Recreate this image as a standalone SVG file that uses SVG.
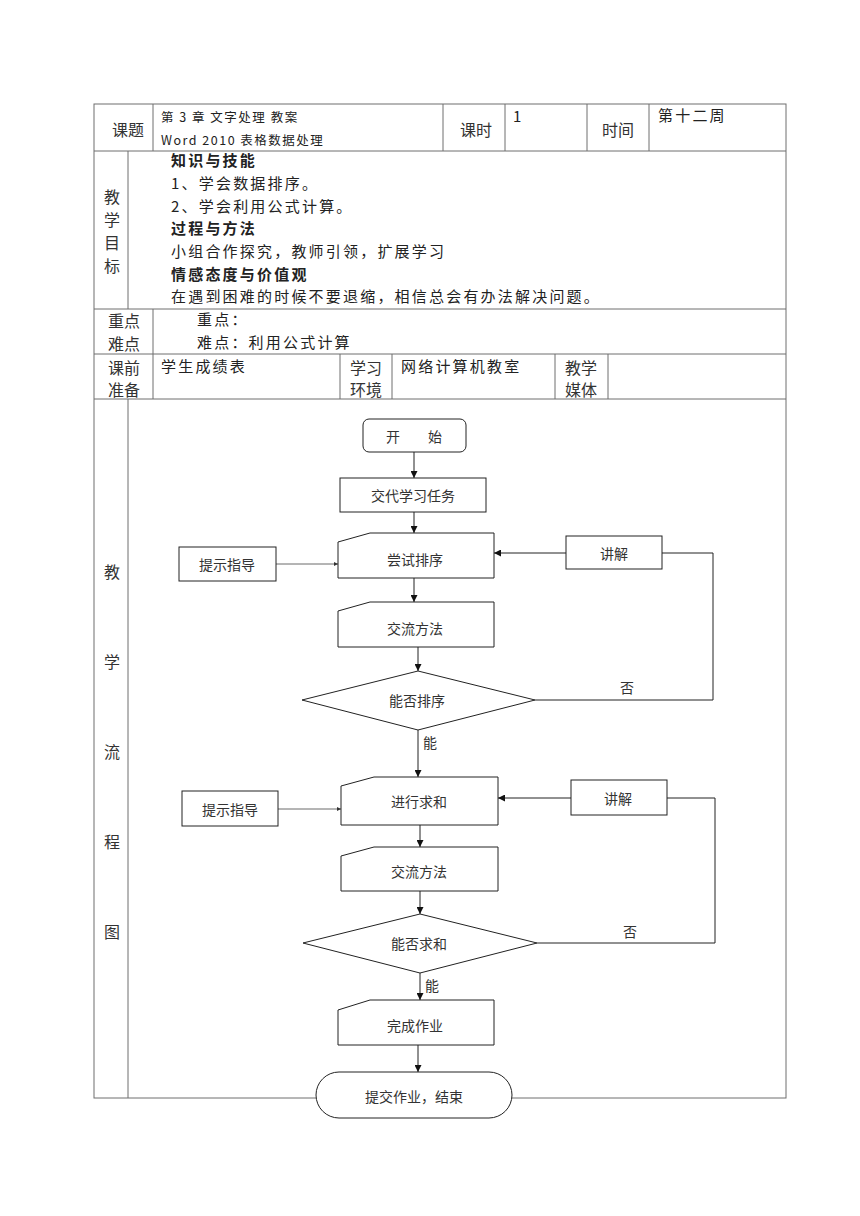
<svg xmlns="http://www.w3.org/2000/svg" width="860" height="1216" viewBox="0 0 860 1216">
<defs>
<marker id="ah" viewBox="0 0 10 10" refX="10" refY="5" markerWidth="7" markerHeight="7" markerUnits="userSpaceOnUse" orient="auto">
<path d="M0,0 L10,5 L0,10 Z" fill="#111"/>
</marker>
<marker id="ahs" viewBox="0 0 10 10" refX="10" refY="5" markerWidth="4" markerHeight="4" markerUnits="userSpaceOnUse" orient="auto">
<path d="M0,0 L10,5 L0,10 Z" fill="#333"/>
</marker>
</defs>
<style>
.tl{stroke:#6e6e6e;stroke-width:1;fill:none}
.t{font-family:"Noto Sans CJK SC","Noto Sans",sans-serif;font-size:15px;fill:#222;letter-spacing:2.2px}
.tb{font-weight:bold}
.lab{font-family:"Noto Sans CJK SC","Noto Sans",sans-serif;font-size:16px;fill:#333;text-anchor:middle;dominant-baseline:central}
.sm{font-family:"Noto Sans CJK SC","Noto Sans",sans-serif;font-size:12.5px;fill:#222;letter-spacing:1.5px}
.one{font-family:"Noto Sans CJK SC","Noto Sans",sans-serif;font-size:15px;fill:#222}
.nd{fill:#fff;stroke:#222;stroke-width:1}
.ft{font-family:"Noto Sans CJK SC","Noto Sans",sans-serif;font-size:14px;fill:#333;text-anchor:middle;dominant-baseline:central}
.cn{fill:none;stroke:#222;stroke-width:1}
.cs{fill:none;stroke:#444;stroke-width:0.8}
</style>
<rect width="860" height="1216" fill="#fff"/>
<g id="table">
<rect class="tl" x="94" y="104" width="692" height="994"/>
<line class="tl" x1="94" y1="151" x2="786" y2="151"/>
<line class="tl" x1="94" y1="309" x2="786" y2="309"/>
<line class="tl" x1="94" y1="354" x2="786" y2="354"/>
<line class="tl" x1="94" y1="399" x2="786" y2="399"/>
<line class="tl" x1="153" y1="104" x2="153" y2="151"/>
<line class="tl" x1="443" y1="104" x2="443" y2="151"/>
<line class="tl" x1="505" y1="104" x2="505" y2="151"/>
<line class="tl" x1="587" y1="104" x2="587" y2="151"/>
<line class="tl" x1="649" y1="104" x2="649" y2="151"/>
<line class="tl" x1="128" y1="151" x2="128" y2="309"/>
<line class="tl" x1="153" y1="309" x2="153" y2="354"/>
<line class="tl" x1="153" y1="354" x2="153" y2="399"/>
<line class="tl" x1="340" y1="354" x2="340" y2="399"/>
<line class="tl" x1="392" y1="354" x2="392" y2="399"/>
<line class="tl" x1="555" y1="354" x2="555" y2="399"/>
<line class="tl" x1="608" y1="354" x2="608" y2="399"/>
<line class="tl" x1="128" y1="399" x2="128" y2="1098"/>
<text class="lab" x="128" y="129">课题</text>
<text class="sm" x="161" y="122">第 3 章 文字处理 教案</text>
<text class="sm" x="161" y="145">Word 2010 表格数据处理</text>
<text class="lab" x="476" y="129">课时</text>
<text class="one" x="513" y="122">1</text>
<text class="lab" x="618" y="129">时间</text>
<text class="t" x="658" y="121">第十二周</text>
<text class="lab" x="112" y="196">教</text>
<text class="lab" x="112" y="219">学</text>
<text class="lab" x="112" y="242">目</text>
<text class="lab" x="112" y="265">标</text>
<text class="t tb" x="171" y="166">知识与技能</text>
<text class="t" x="171" y="189">1、学会数据排序。</text>
<text class="t" x="171" y="212">2、学会利用公式计算。</text>
<text class="t tb" x="171" y="234">过程与方法</text>
<text class="t" x="171" y="257">小组合作探究，教师引领，扩展学习</text>
<text class="t tb" x="171" y="280">情感态度与价值观</text>
<text class="t" x="171" y="302">在遇到困难的时候不要退缩，相信总会有办法解决问题。</text>
<text class="lab" x="124" y="320">重点</text>
<text class="lab" x="124" y="343">难点</text>
<text class="t" x="197" y="325">重点：</text>
<text class="t" x="197" y="348">难点：利用公式计算</text>
<text class="lab" x="124" y="367">课前</text>
<text class="lab" x="124" y="389">准备</text>
<text class="t" x="161" y="372">学生成绩表</text>
<text class="lab" x="366" y="367">学习</text>
<text class="lab" x="366" y="389">环境</text>
<text class="t" x="401" y="372">网络计算机教室</text>
<text class="lab" x="581" y="367">教学</text>
<text class="lab" x="581" y="389">媒体</text>
<text class="lab" x="112" y="571">教</text>
<text class="lab" x="112" y="661">学</text>
<text class="lab" x="112" y="751">流</text>
<text class="lab" x="112" y="841">程</text>
<text class="lab" x="112" y="931">图</text>
</g>
<g id="connectors">
<line class="cn" x1="414" y1="452" x2="414" y2="478" marker-end="url(#ah)"/>
<line class="cn" x1="414" y1="512" x2="414" y2="533" marker-end="url(#ah)"/>
<line class="cn" x1="414" y1="578" x2="414" y2="602" marker-end="url(#ah)"/>
<line class="cn" x1="418" y1="647" x2="418" y2="671" marker-end="url(#ah)"/>
<line class="cs" x1="276" y1="564" x2="338" y2="564" marker-end="url(#ahs)"/>
<line class="cn" x1="566" y1="553" x2="494" y2="553" marker-end="url(#ah)"/>
<polyline class="cn" points="535,700 713,700 713,553 662,553"/>
<line class="cn" x1="418" y1="730" x2="418" y2="777" marker-end="url(#ah)"/>
<line class="cs" x1="278" y1="809" x2="341" y2="809" marker-end="url(#ahs)"/>
<line class="cn" x1="571" y1="798" x2="498" y2="798" marker-end="url(#ah)"/>
<polyline class="cn" points="537,943 715,943 715,798 667,798"/>
<line class="cn" x1="420" y1="825" x2="420" y2="847" marker-end="url(#ah)"/>
<line class="cn" x1="420" y1="891" x2="420" y2="914" marker-end="url(#ah)"/>
<line class="cn" x1="420" y1="973" x2="420" y2="1000" marker-end="url(#ah)"/>
<line class="cn" x1="418" y1="1045" x2="418" y2="1072" marker-end="url(#ah)"/>
<text class="ft" x="627" y="687">否</text>
<text class="ft" x="430" y="742">能</text>
<text class="ft" x="630" y="931">否</text>
<text class="ft" x="432" y="985">能</text>
</g>
<g id="n-start"><rect class="nd" x="363" y="419" width="103" height="33" rx="6"/><text class="ft" x="414" y="436">开　　始</text></g>
<g id="n-task"><rect class="nd" x="340" y="478" width="146" height="34"/><text class="ft" x="413" y="495">交代学习任务</text></g>
<g id="n-sort"><path class="nd" d="M338,542 L370,533 L494,533 L494,578 L338,578 Z"/><text class="ft" x="415" y="559">尝试排序</text></g>
<g id="n-hint1"><rect class="nd" x="179" y="547" width="97" height="34"/><text class="ft" x="227" y="564">提示指导</text></g>
<g id="n-explain1"><rect class="nd" x="566" y="536" width="96" height="33"/><text class="ft" x="614" y="553">讲解</text></g>
<g id="n-share1"><path class="nd" d="M338,611 L370,602 L494,602 L494,647 L338,647 Z"/><text class="ft" x="415" y="628">交流方法</text></g>
<g id="n-dec1"><polygon class="nd" points="302,700 418,671 535,700 418,730"/><text class="ft" x="417" y="700">能否排序</text></g>
<g id="n-sum"><path class="nd" d="M341,786 L374,777 L498,777 L498,825 L341,825 Z"/><text class="ft" x="419" y="801">进行求和</text></g>
<g id="n-hint2"><rect class="nd" x="182" y="791" width="96" height="35"/><text class="ft" x="230" y="809">提示指导</text></g>
<g id="n-explain2"><rect class="nd" x="571" y="780" width="96" height="35"/><text class="ft" x="618" y="798">讲解</text></g>
<g id="n-share2"><path class="nd" d="M341,856 L374,847 L498,847 L498,891 L341,891 Z"/><text class="ft" x="419" y="871">交流方法</text></g>
<g id="n-dec2"><polygon class="nd" points="303,943 420,914 537,943 420,973"/><text class="ft" x="419" y="943">能否求和</text></g>
<g id="n-hw"><path class="nd" d="M338,1010 L370,1000 L494,1000 L494,1045 L338,1045 Z"/><text class="ft" x="415" y="1025">完成作业</text></g>
<g id="n-end"><rect class="nd" x="316" y="1072" width="196" height="46" rx="23"/><text class="ft" x="414" y="1096">提交作业，结束</text></g>
</svg>
